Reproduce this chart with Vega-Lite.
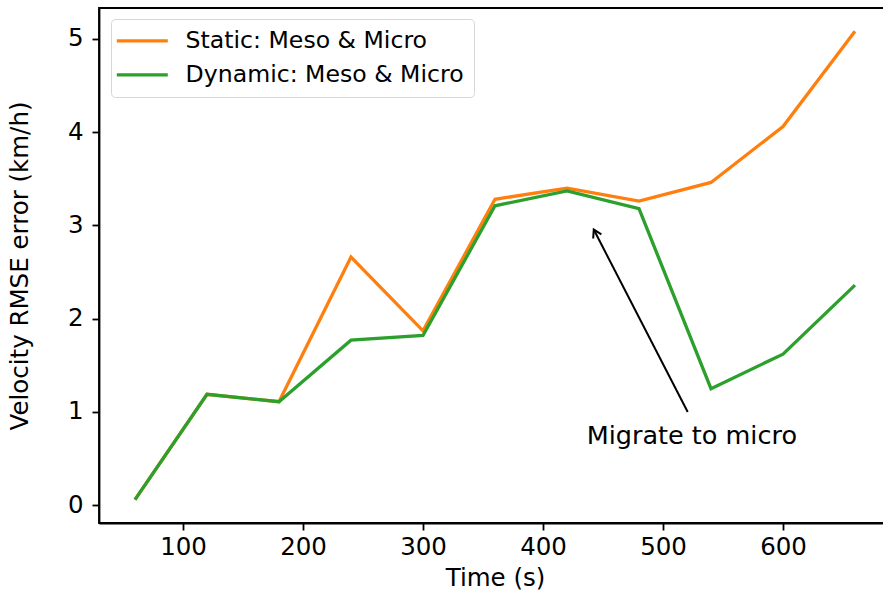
{
  "$schema": "https://vega.github.io/schema/vega-lite/v6.json",
  "width": 792,
  "height": 515,
  "autosize": {"type": "none"},
  "padding": {"left": 99, "top": 8, "right": -8, "bottom": 73},
  "background": "white",
  "config": {
    "view": {"stroke": "black", "strokeWidth": 1.8},
    "axis": {
      "grid": false,
      "domainColor": "black",
      "domainWidth": 1.8,
      "tickColor": "black",
      "tickWidth": 1.8,
      "tickSize": 7,
      "labelFont": "DejaVu Sans",
      "labelFontSize": 24.5,
      "labelColor": "black",
      "titleFont": "DejaVu Sans",
      "titleFontSize": 24.5,
      "titleFontWeight": "normal",
      "titleColor": "black"
    },
    "legend": {
      "labelFont": "DejaVu Sans",
      "labelFontSize": 23.6,
      "labelColor": "black",
      "labelLimit": 600
    }
  },
  "datasets": {
    "series": [
      {"t": 60, "s": "Static: Meso & Micro", "v": 0.06},
      {"t": 120, "s": "Static: Meso & Micro", "v": 1.19},
      {"t": 180, "s": "Static: Meso & Micro", "v": 1.11},
      {"t": 240, "s": "Static: Meso & Micro", "v": 2.66},
      {"t": 300, "s": "Static: Meso & Micro", "v": 1.87},
      {"t": 360, "s": "Static: Meso & Micro", "v": 3.28},
      {"t": 420, "s": "Static: Meso & Micro", "v": 3.40},
      {"t": 480, "s": "Static: Meso & Micro", "v": 3.26},
      {"t": 540, "s": "Static: Meso & Micro", "v": 3.46},
      {"t": 600, "s": "Static: Meso & Micro", "v": 4.06},
      {"t": 660, "s": "Static: Meso & Micro", "v": 5.08},
      {"t": 60, "s": "Dynamic: Meso & Micro", "v": 0.06},
      {"t": 120, "s": "Dynamic: Meso & Micro", "v": 1.19},
      {"t": 180, "s": "Dynamic: Meso & Micro", "v": 1.11},
      {"t": 240, "s": "Dynamic: Meso & Micro", "v": 1.77},
      {"t": 300, "s": "Dynamic: Meso & Micro", "v": 1.82},
      {"t": 360, "s": "Dynamic: Meso & Micro", "v": 3.21},
      {"t": 420, "s": "Dynamic: Meso & Micro", "v": 3.37},
      {"t": 480, "s": "Dynamic: Meso & Micro", "v": 3.18},
      {"t": 540, "s": "Dynamic: Meso & Micro", "v": 1.25},
      {"t": 600, "s": "Dynamic: Meso & Micro", "v": 1.62},
      {"t": 660, "s": "Dynamic: Meso & Micro", "v": 2.36}
    ],
    "arrow": [
      {"x1": 520.6, "y1": 1.0, "x2": 442.3, "y2": 2.955, "label": "Migrate to micro", "tx": 524, "ty": 0.66}
    ]
  },
  "layer": [
    {
      "data": {"name": "series"},
      "transform": [{"filter": "datum.s === 'Static: Meso & Micro'"}],
      "mark": {"type": "line", "strokeWidth": 3.3, "clip": true},
      "encoding": {
        "x": {
          "field": "t", "type": "quantitative",
          "scale": {"domain": [30, 690], "nice": false, "zero": false},
          "axis": {"values": [100, 200, 300, 400, 500, 600], "title": "Time (s)", "labelPadding": 5, "titlePadding": 8}
        },
        "y": {
          "field": "v", "type": "quantitative",
          "scale": {"domain": [-0.19, 5.33], "nice": false, "zero": false},
          "axis": {"values": [0, 1, 2, 3, 4, 5], "format": "d", "title": "Velocity RMSE error (km/h)", "labelPadding": 9, "titlePadding": 35}
        },
        "color": {
          "field": "s", "type": "nominal",
          "scale": {"domain": ["Static: Meso & Micro", "Dynamic: Meso & Micro"], "range": ["#ff7f0e", "#2ca02c"]},
          "legend": {
            "title": null,
            "orient": "none",
            "legendX": 12,
            "legendY": 11,
            "fillColor": "white",
            "strokeColor": "#d6d6d6",
            "cornerRadius": 4,
            "padding": 10,
            "symbolType": "M-3.2,0L7.0,0",
            "symbolSize": 100,
            "symbolStrokeWidth": 3.3,
            "labelOffset": 41,
            "rowPadding": 9
          }
        }
      }
    },
    {
      "data": {"name": "series"},
      "transform": [{"filter": "datum.s === 'Dynamic: Meso & Micro'"}],
      "mark": {"type": "line", "strokeWidth": 3.3, "clip": true},
      "encoding": {
        "x": {"field": "t", "type": "quantitative"},
        "y": {"field": "v", "type": "quantitative"},
        "color": {"field": "s", "type": "nominal"}
      }
    },
    {
      "data": {"name": "arrow"},
      "mark": {"type": "rule", "color": "black", "strokeWidth": 2},
      "encoding": {
        "x": {"field": "x1", "type": "quantitative"},
        "y": {"field": "y1", "type": "quantitative"},
        "x2": {"field": "x2"},
        "y2": {"field": "y2"}
      }
    },
    {
      "data": {"name": "arrow"},
      "mark": {"type": "point", "shape": "M-0.45,0.75L0,0L0.45,0.75", "filled": false, "stroke": "black", "strokeWidth": 2, "size": 420, "angle": 332.7, "opacity": 1},
      "encoding": {
        "x": {"field": "x2", "type": "quantitative"},
        "y": {"field": "y2", "type": "quantitative"}
      }
    },
    {
      "data": {"name": "arrow"},
      "mark": {"type": "text", "font": "DejaVu Sans", "fontSize": 25.5, "align": "center", "baseline": "alphabetic", "color": "black"},
      "encoding": {
        "x": {"field": "tx", "type": "quantitative"},
        "y": {"field": "ty", "type": "quantitative"},
        "text": {"field": "label"}
      }
    }
  ]
}
